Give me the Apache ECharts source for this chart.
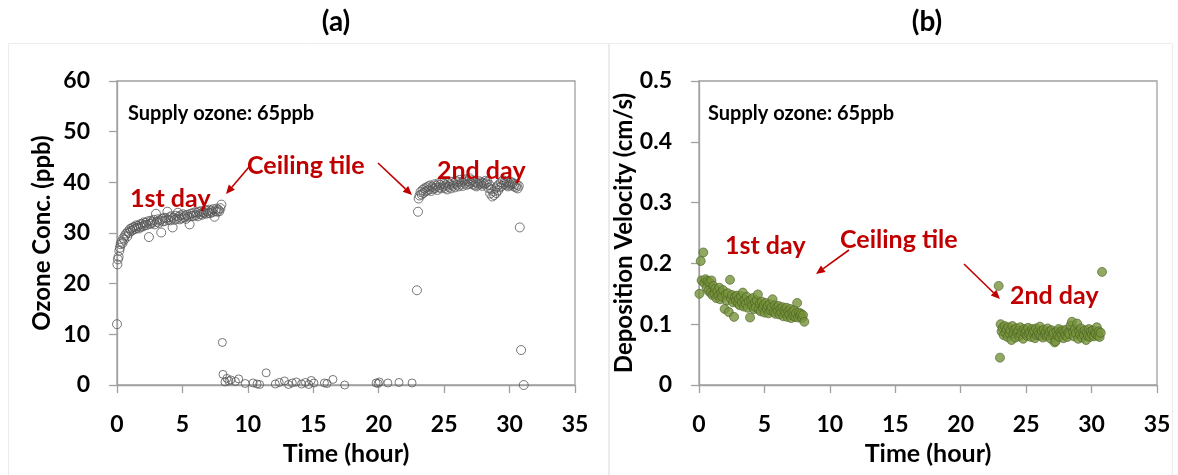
<!DOCTYPE html>
<html>
<head>
<meta charset="utf-8">
<script src="https://cdn.jsdelivr.net/npm/echarts@6.0.0/dist/echarts.min.js"></script>
<style>
  html, body { margin: 0; padding: 0; background: #fff; }
  #main { width: 1178px; height: 475px; }
</style>
</head>
<body>
<div id="main"></div>
<script>
// (a) ozone concentration, ppb  [hour, ppb]
const ozoneDay1 = [
  [0.00, 12.0], [0.03, 23.8], [0.07, 24.8], [0.12, 25.3], [0.18, 26.5], [0.22, 27.1], [0.28, 27.8],
  [0.35, 28.3], [0.42, 28.0], [0.48, 29.0], [0.55, 28.7], [0.62, 29.5], [0.70, 29.9], [0.78, 29.3],
  [0.85, 30.3], [0.92, 30.0], [1.00, 30.8], [1.08, 30.4], [1.15, 31.0], [1.22, 30.6], [1.30, 31.2],
  [1.38, 30.8], [1.45, 31.5], [1.52, 31.0], [1.60, 31.4], [1.68, 30.9], [1.75, 31.7], [1.82, 31.2],
  [1.90, 31.8], [1.98, 31.3], [2.05, 32.1], [2.12, 31.5], [2.20, 32.0], [2.28, 31.6], [2.35, 32.3],
  [2.44, 29.2], [2.50, 31.8], [2.58, 32.4], [2.65, 31.9], [2.72, 32.2], [2.80, 32.6], [2.88, 31.7],
  [2.98, 33.8], [3.05, 32.2], [3.12, 32.7], [3.20, 32.0], [3.28, 32.5], [3.38, 30.1], [3.45, 32.8],
  [3.52, 32.3], [3.60, 33.0], [3.68, 32.4], [3.75, 32.9], [3.85, 34.2], [3.92, 32.6], [4.00, 33.1],
  [4.08, 32.5], [4.15, 33.3], [4.25, 31.1], [4.32, 33.0], [4.40, 32.6], [4.48, 33.4], [4.55, 32.8],
  [4.65, 34.0], [4.72, 33.2], [4.80, 32.7], [4.88, 33.5], [4.95, 32.9], [5.05, 33.7], [5.12, 33.1],
  [5.20, 33.4], [5.28, 32.8], [5.35, 33.6], [5.45, 33.2], [5.55, 31.7], [5.62, 33.8], [5.70, 33.3],
  [5.78, 33.9], [5.85, 33.4], [5.95, 34.1], [6.02, 33.5], [6.10, 34.0], [6.18, 33.3], [6.25, 34.2],
  [6.35, 33.7], [6.42, 34.3], [6.50, 33.6], [6.58, 34.1], [6.65, 33.9], [6.75, 34.5], [6.82, 33.8],
  [6.90, 34.3], [6.98, 34.0], [7.05, 34.6], [7.12, 33.9], [7.20, 34.4], [7.28, 34.1], [7.35, 34.7],
  [7.45, 33.2], [7.52, 34.3], [7.60, 34.8], [7.68, 34.2], [7.75, 34.6], [7.82, 34.3], [7.90, 34.9],
  [7.98, 35.6]
];
const ozoneTile = [
  [8.05, 8.4], [8.10, 2.1], [8.25, 0.6], [8.40, 1.3], [8.55, 0.8], [8.70, 1.0], [9.05, 0.7],
  [9.30, 1.2], [9.80, 0.3], [10.40, 0.4], [10.70, 0.2], [10.90, 0.1], [11.40, 2.4], [12.10, 0.2],
  [12.40, 0.5], [12.80, 0.8], [13.10, 0.1], [13.40, 0.4], [13.70, 0.6], [14.10, 0.2], [14.40, 0.5],
  [14.65, 0.1], [14.85, 0.9], [15.05, 0.4], [15.85, 0.4], [16.05, 0.3], [16.50, 1.1], [17.40, 0.0],
  [19.80, 0.4], [19.95, 0.3], [20.05, 0.6], [20.70, 0.4], [21.55, 0.5], [22.55, 0.4]
];
const ozoneDay2 = [
  [22.92, 18.7], [23.00, 34.2], [23.05, 36.8], [23.12, 37.4], [23.20, 38.1], [23.28, 37.6], [23.35, 38.5],
  [23.42, 37.9], [23.50, 38.8], [23.58, 38.2], [23.65, 39.0], [23.72, 38.4], [23.80, 39.2], [23.88, 38.6],
  [23.95, 39.4], [24.02, 38.3], [24.10, 39.1], [24.18, 38.7], [24.25, 39.6], [24.32, 38.9], [24.40, 39.3],
  [24.48, 38.5], [24.55, 39.8], [24.62, 39.0], [24.70, 39.5], [24.78, 38.8], [24.85, 40.2], [24.92, 39.2],
  [25.00, 39.7], [25.08, 38.9], [25.15, 39.4], [25.22, 38.6], [25.30, 39.9], [25.38, 39.1], [25.45, 39.6],
  [25.52, 38.8], [25.60, 40.1], [25.68, 39.3], [25.75, 39.8], [25.82, 39.0], [25.90, 40.3], [25.98, 39.5],
  [26.05, 40.0], [26.12, 39.2], [26.20, 40.5], [26.28, 39.6], [26.35, 40.1], [26.42, 39.3], [26.50, 40.4],
  [26.58, 39.8], [26.65, 40.6], [26.72, 39.5], [26.80, 40.2], [26.88, 39.7], [26.95, 40.8], [27.02, 39.9],
  [27.10, 40.4], [27.18, 39.6], [27.25, 40.1], [27.32, 39.4], [27.40, 40.0], [27.48, 39.2], [27.55, 39.8],
  [27.62, 39.5], [27.70, 40.2], [27.78, 39.7], [27.85, 40.0], [27.92, 39.3], [28.00, 39.9], [28.08, 39.6],
  [28.15, 40.3], [28.22, 39.8], [28.30, 40.1], [28.38, 38.9], [28.45, 39.5], [28.52, 37.8], [28.60, 38.6],
  [28.68, 37.2], [28.75, 38.2], [28.82, 37.5], [28.90, 38.8], [28.98, 37.9], [29.05, 39.2], [29.12, 38.4],
  [29.20, 39.6], [29.28, 39.0], [29.35, 40.0], [29.42, 39.3], [29.50, 40.4], [29.58, 39.7], [29.65, 40.2],
  [29.72, 39.5], [29.80, 40.0], [29.88, 39.2], [29.95, 39.8], [30.02, 39.4], [30.10, 40.1], [30.18, 39.6],
  [30.25, 39.9], [30.32, 39.2], [30.40, 39.7], [30.48, 39.0], [30.55, 39.5], [30.62, 38.8], [30.70, 39.3],
  [30.78, 31.1], [30.88, 6.9], [31.08, 0.0]
];

// (b) deposition velocity, cm/s  [hour, cm/s]
const depositionDay1 = [
  [0.03, 0.150], [0.13, 0.204], [0.20, 0.172], [0.33, 0.218], [0.40, 0.168], [0.50, 0.174], [0.58, 0.160],
  [0.65, 0.171], [0.72, 0.155], [0.80, 0.169], [0.88, 0.152], [0.95, 0.172], [1.02, 0.148], [1.10, 0.163],
  [1.18, 0.150], [1.25, 0.158], [1.32, 0.143], [1.40, 0.155], [1.48, 0.147], [1.55, 0.160], [1.62, 0.141],
  [1.70, 0.152], [1.78, 0.145], [1.85, 0.156], [1.96, 0.125], [2.05, 0.149], [2.12, 0.139], [2.20, 0.151],
  [2.28, 0.120], [2.37, 0.173], [2.45, 0.142], [2.52, 0.148], [2.60, 0.136], [2.68, 0.112], [2.75, 0.145],
  [2.82, 0.138], [2.90, 0.147], [2.98, 0.134], [3.05, 0.142], [3.12, 0.131], [3.20, 0.146], [3.28, 0.136],
  [3.35, 0.152], [3.42, 0.129], [3.50, 0.140], [3.58, 0.133], [3.65, 0.145], [3.72, 0.127], [3.80, 0.138],
  [3.90, 0.111], [3.98, 0.140], [4.05, 0.130], [4.12, 0.143], [4.20, 0.125], [4.28, 0.136], [4.35, 0.128],
  [4.42, 0.139], [4.50, 0.149], [4.58, 0.124], [4.65, 0.134], [4.72, 0.121], [4.80, 0.137], [4.88, 0.127],
  [4.95, 0.132], [5.02, 0.119], [5.10, 0.135], [5.18, 0.125], [5.25, 0.130], [5.32, 0.118], [5.40, 0.133],
  [5.48, 0.123], [5.55, 0.128], [5.62, 0.141], [5.70, 0.120], [5.78, 0.131], [5.85, 0.117], [5.92, 0.127],
  [6.00, 0.122], [6.08, 0.130], [6.15, 0.116], [6.22, 0.125], [6.30, 0.119], [6.38, 0.128], [6.45, 0.113],
  [6.52, 0.123], [6.60, 0.118], [6.68, 0.127], [6.75, 0.112], [6.82, 0.121], [6.90, 0.116], [6.98, 0.125],
  [7.05, 0.110], [7.12, 0.120], [7.20, 0.114], [7.28, 0.123], [7.35, 0.112], [7.42, 0.118], [7.50, 0.135],
  [7.58, 0.111], [7.65, 0.119], [7.72, 0.114], [7.80, 0.117], [7.88, 0.110], [7.95, 0.115], [8.05, 0.104]
];
const depositionDay2 = [
  [22.90, 0.163], [23.00, 0.045], [23.05, 0.100], [23.12, 0.088], [23.20, 0.094], [23.28, 0.082], [23.35, 0.097],
  [23.42, 0.086], [23.50, 0.092], [23.58, 0.079], [23.65, 0.095], [23.72, 0.085], [23.80, 0.090], [23.88, 0.074],
  [23.95, 0.097], [24.02, 0.084], [24.10, 0.091], [24.18, 0.078], [24.25, 0.093], [24.32, 0.086], [24.40, 0.089],
  [24.48, 0.080], [24.55, 0.095], [24.62, 0.083], [24.70, 0.088], [24.78, 0.076], [24.85, 0.092], [24.92, 0.085],
  [25.00, 0.090], [25.08, 0.081], [25.15, 0.094], [25.22, 0.084], [25.30, 0.087], [25.38, 0.079], [25.45, 0.092],
  [25.52, 0.086], [25.60, 0.089], [25.68, 0.077], [25.75, 0.093], [25.82, 0.082], [25.90, 0.088], [25.98, 0.083],
  [26.05, 0.096], [26.12, 0.081], [26.20, 0.089], [26.28, 0.078], [26.35, 0.091], [26.42, 0.084], [26.50, 0.087],
  [26.58, 0.080], [26.65, 0.093], [26.72, 0.082], [26.80, 0.088], [26.88, 0.076], [26.95, 0.090], [27.02, 0.083],
  [27.10, 0.086], [27.18, 0.070], [27.25, 0.072], [27.32, 0.088], [27.40, 0.081], [27.48, 0.092], [27.55, 0.079],
  [27.62, 0.087], [27.70, 0.083], [27.78, 0.090], [27.85, 0.077], [27.92, 0.088], [28.00, 0.082], [28.08, 0.091],
  [28.15, 0.079], [28.22, 0.086], [28.30, 0.084], [28.40, 0.098], [28.50, 0.104], [28.58, 0.087], [28.65, 0.080],
  [28.72, 0.092], [28.80, 0.085], [28.90, 0.101], [28.98, 0.076], [29.05, 0.089], [29.12, 0.083], [29.20, 0.093],
  [29.28, 0.078], [29.35, 0.087], [29.42, 0.082], [29.50, 0.090], [29.58, 0.074], [29.65, 0.086], [29.72, 0.081],
  [29.80, 0.092], [29.88, 0.079], [29.95, 0.088], [30.02, 0.083], [30.10, 0.090], [30.18, 0.080], [30.25, 0.087],
  [30.32, 0.084], [30.40, 0.095], [30.48, 0.081], [30.55, 0.088], [30.62, 0.079], [30.70, 0.086], [30.80, 0.186]
];

const panelTitles = ['(a)', '(b)'];
const yAxisNames = ['Ozone Conc. (ppb)', 'Deposition Velocity (cm/s)'];
const xAxisName = 'Time (hour)';
const supplyText = 'Supply ozone: 65ppb';

const FONT = 'Lato';
const RED = '#c00000';
const AXIS = '#a0a0a0';

// little helper: straight arrow with a filled head (pixel coords)
function arrow(x1, y1, x2, y2) {
  const a = Math.atan2(y2 - y1, x2 - x1);
  const L = 9, W = 4;
  const bx = x2 - L * Math.cos(a), by = y2 - L * Math.sin(a);
  return [
    { type: 'line', z: 100, shape: { x1: x1, y1: y1, x2: bx, y2: by }, style: { stroke: RED, lineWidth: 1.6 } },
    { type: 'polygon', z: 100, shape: { points: [[x2, y2], [bx + W * Math.sin(a), by - W * Math.cos(a)], [bx - W * Math.sin(a), by + W * Math.cos(a)]] }, style: { fill: RED } }
  ];
}

function label(text, x, y, color, size) {
  return {
    type: 'text', z: 100, left: x, top: y,
    style: { text: text, fill: color, font: 'bold ' + size + 'px ' + FONT, textVerticalAlign: 'middle' }
  };
}

function xAxisCfg(idx) {
  return {
    gridIndex: idx, type: 'value', min: 0, max: 35, interval: 5,
    name: xAxisName, nameLocation: 'middle', nameGap: 56,
    nameTextStyle: { fontFamily: FONT, fontWeight: 'bold', fontSize: 25, color: '#000' },
    axisLine: { onZero: false, lineStyle: { color: AXIS, width: 1.3 } },
    axisTick: { inside: false, length: 8, lineStyle: { color: AXIS, width: 1.3 } },
    axisLabel: { margin: 28, fontFamily: FONT, fontWeight: 'bold', fontSize: 23, color: '#000' },
    splitLine: { show: false }
  };
}

function yAxisCfg(idx, max, interval, gap) {
  return {
    gridIndex: idx, type: 'value', min: 0, max: max, interval: interval,
    name: yAxisNames[idx], nameLocation: 'middle', nameGap: gap,
    nameTextStyle: { fontFamily: FONT, fontWeight: 'bold', fontSize: 24, color: '#000' },
    axisLine: { onZero: false, lineStyle: { color: AXIS, width: 1.3 } },
    axisTick: { inside: false, length: 8, lineStyle: { color: AXIS, width: 1.3 } },
    axisLabel: { margin: 27, fontFamily: FONT, fontWeight: 'bold', fontSize: 23, color: '#000' },
    splitLine: { show: false }
  };
}

const ringStyle = { color: 'rgba(255,255,255,0)', borderColor: '#555', borderWidth: 1 };
const dotStyle = { color: '#77933c', borderColor: '#4a5e22', borderWidth: 0.8 };

const chart = echarts.init(document.getElementById('main'), null, { renderer: 'canvas' });

const option = {
  animation: false,
  backgroundColor: '#fff',
  title: [
    { text: panelTitles[0], left: 331, top: 3, textAlign: 'center', textStyle: { fontFamily: FONT, fontWeight: 'bold', fontSize: 28, color: '#000' } },
    { text: panelTitles[1], left: 922, top: 3, textAlign: 'center', textStyle: { fontFamily: FONT, fontWeight: 'bold', fontSize: 28, color: '#000' } }
  ],
  grid: [
    { left: 117, top: 81, width: 458, height: 304, show: true, borderColor: AXIS, borderWidth: 1.3, backgroundColor: 'transparent' },
    { left: 699, top: 81, width: 458, height: 304, show: true, borderColor: AXIS, borderWidth: 1.3, backgroundColor: 'transparent' }
  ],
  xAxis: [xAxisCfg(0), xAxisCfg(1)],
  yAxis: [yAxisCfg(0, 60, 10, 63), yAxisCfg(1, 0.5, 0.1, 58)],
  series: [
    { type: 'scatter', xAxisIndex: 0, yAxisIndex: 0, data: ozoneDay1, symbol: 'circle', symbolSize: 9, itemStyle: ringStyle },
    { type: 'scatter', xAxisIndex: 0, yAxisIndex: 0, data: ozoneTile, symbol: 'circle', symbolSize: 8, itemStyle: ringStyle },
    { type: 'scatter', xAxisIndex: 0, yAxisIndex: 0, data: ozoneDay2, symbol: 'circle', symbolSize: 9, itemStyle: ringStyle },
    { type: 'scatter', xAxisIndex: 1, yAxisIndex: 1, data: depositionDay1, symbol: 'circle', symbolSize: 9, itemStyle: dotStyle },
    { type: 'scatter', xAxisIndex: 1, yAxisIndex: 1, data: depositionDay2, symbol: 'circle', symbolSize: 9, itemStyle: dotStyle }
  ],
  graphic: [
    // faint panel frames
    { type: 'rect', z: -1, shape: { x: 8.5, y: 43.5, width: 600, height: 440 }, style: { fill: 'none', stroke: '#ececec', lineWidth: 1 } },
    { type: 'rect', z: -1, shape: { x: 609.5, y: 43.5, width: 563, height: 440 }, style: { fill: 'none', stroke: '#ececec', lineWidth: 1 } },
    label(supplyText, 128, 104, '#000', 20),
    label(supplyText, 708, 104, '#000', 20),
    label('1st day', 130, 186, RED, 25),
    label('Ceiling tile', 247, 153, RED, 25),
    label('2nd day', 437, 158, RED, 25),
    label('1st day', 725, 233, RED, 25),
    label('Ceiling tile', 840, 227, RED, 25),
    label('2nd day', 1010, 283, RED, 25)
  ].concat(
    arrow(249, 167, 226, 194),
    arrow(378, 163, 412, 195),
    arrow(849, 250, 816, 274),
    arrow(964, 264, 1000, 299)
  )
};

chart.setOption(option);
</script>
</body>
</html>
